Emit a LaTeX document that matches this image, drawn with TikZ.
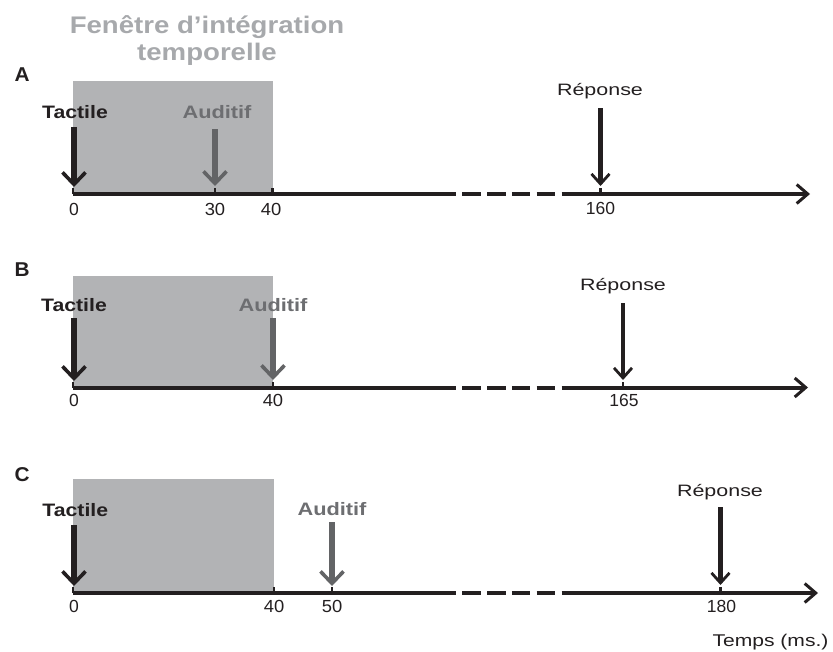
\documentclass[tikz,border=0pt]{standalone}
\usepackage{fontspec}
\setmainfont{Liberation Sans}
\usepackage{graphicx}
\usetikzlibrary{arrows.meta}
\definecolor{ink}{HTML}{231F20}
\definecolor{aud}{HTML}{636466}
\definecolor{audtxt}{HTML}{6D6E71}
\definecolor{win}{HTML}{B2B3B5}
\definecolor{ttl}{HTML}{A7A9AC}
\newcommand{\sx}[2]{\scalebox{#1}[1]{#2}}
\newcommand{\tlaxis}[3]{%
  \coordinate (#1s) at (73,#2);
  \coordinate (#1d1) at (455.7,#2);
  \coordinate (#1d2) at (462.3,#2);
  \coordinate (#1d3) at (555.1,#2);
  \coordinate (#1d4) at (561.7,#2);
  \coordinate (#1e) at (#3,#2);
  \draw[axisline] (#1s) -- (#1d1);
  \draw[axisline, dash pattern=on 18.4pt off 6.4pt] (#1d2) -- (#1d3);
  \draw[axisline, -{axhead}] (#1d4) -- (#1e);
}
\begin{document}
\begin{tikzpicture}[x=1pt,y=-1pt,
  lbl/.style={inner sep=0pt, anchor=base},
  ttlfont/.style={lbl, text=ttl, font=\fontsize{24}{28}\selectfont\bfseries},
  letterfont/.style={inner sep=0pt, anchor=base west, text=ink, font=\fontsize{20}{23}\selectfont\bfseries},
  tacfont/.style={lbl, text=ink, font=\fontsize{18}{21}\selectfont\bfseries},
  audfont/.style={lbl, text=audtxt, font=\fontsize{18}{21}\selectfont\bfseries},
  repfont/.style={lbl, text=ink, font=\fontsize{16.5}{19}\selectfont},
  numfont/.style={lbl, text=ink, font=\fontsize{17.5}{20}\selectfont},
  axisline/.style={draw=ink, line width=4pt, line cap=butt},
  axhead/.tip={Straight Barb[length=11pt, width=19pt, line width=3pt]},
  evhead/.tip={Straight Barb[length=12pt, width=23pt, line width=3.6pt]},
  rphead/.tip={Straight Barb[length=10pt, width=18pt, line width=2.8pt]},
  tacarrow/.style={draw=ink, line width=5.5pt, -{evhead}},
  audarrow/.style={draw=aud, line width=5.5pt, -{evhead}},
  reparrow/.style={draw=ink, line width=4.6pt, -{rphead}},
  tickmark/.style={draw=ink, line width=2.6pt},
  windowbox/.style={fill=win, draw=none}
]
\useasboundingbox (0,0) rectangle (833,651);

% Title
\node[ttlfont] (title1) at (207,33) {\sx{1.15}{Fenêtre d’intégration}};
\node[ttlfont] (title2) at (207,60) {\sx{1.15}{temporelle}};

% ---------- Panel A ----------
\node[letterfont] (LA) at (14.5,81) {\sx{1.04}{A}};
\fill[windowbox] (73,81) rectangle (273,194);
\tlaxis{A}{194}{810}
\foreach \x in {73,215,272.5,600.5} \draw[tickmark] (\x,194) -- (\x,188.3);
\node[tacfont] (tacA) at (75,118) {\sx{1.18}{Tactile}};
\coordinate (tacAtop) at (74,127); \coordinate (tacAtip) at (74,187);
\draw[tacarrow] (tacAtop) -- (tacAtip);
\node[audfont] (audA) at (217,118) {\sx{1.21}{Auditif}};
\coordinate (audAtop) at (215,129); \coordinate (audAtip) at (215,186);
\draw[audarrow] (audAtop) -- (audAtip);
\node[repfont] (repA) at (600,95) {\sx{1.3}{Réponse}};
\coordinate (repAtop) at (600.5,108); \coordinate (repAtip) at (600.5,186);
\draw[reparrow] (repAtop) -- (repAtip);
\node[numfont] (nA0) at (74,215) {\sx{1.0}{0}};
\node[numfont] (nA30) at (215,215) {\sx{1.05}{30}};
\node[numfont] (nA40) at (271,215) {\sx{1.05}{40}};
\node[numfont] (nA160) at (600.5,214) {\sx{1.0}{160}};

% ---------- Panel B ----------
\node[letterfont] (LB) at (14.5,276) {\sx{1.04}{B}};
\fill[windowbox] (73,275.7) rectangle (273,387.5);
\tlaxis{B}{387.5}{808}
\foreach \x in {73,273,623} \draw[tickmark] (\x,387.5) -- (\x,381.8);
\node[tacfont] (tacB) at (74,311.7) {\sx{1.18}{Tactile}};
\coordinate (tacBtop) at (74,318); \coordinate (tacBtip) at (74,381);
\draw[tacarrow] (tacBtop) -- (tacBtip);
\node[audfont] (audB) at (273,311.7) {\sx{1.21}{Auditif}};
\coordinate (audBtop) at (273,318); \coordinate (audBtip) at (273,380);
\draw[audarrow] (audBtop) -- (audBtip);
\node[repfont] (repB) at (623,290) {\sx{1.3}{Réponse}};
\coordinate (repBtop) at (623,303); \coordinate (repBtip) at (623,380);
\draw[reparrow] (repBtop) -- (repBtip);
\node[numfont] (nB0) at (74,406.7) {\sx{1.0}{0}};
\node[numfont] (nB40) at (273,406.7) {\sx{1.05}{40}};
\node[numfont] (nB165) at (624,406.7) {\sx{1.0}{165}};

% ---------- Panel C ----------
\node[letterfont] (LC) at (14.5,481.7) {\sx{1.04}{C}};
\fill[windowbox] (73,479) rectangle (274,593);
\tlaxis{C}{593}{818}
\foreach \x in {73,274,332,720.5} \draw[tickmark] (\x,593) -- (\x,587.3);
\node[tacfont] (tacC) at (75.3,516.7) {\sx{1.18}{Tactile}};
\coordinate (tacCtop) at (74,525); \coordinate (tacCtip) at (74,586);
\draw[tacarrow] (tacCtop) -- (tacCtip);
\node[audfont] (audC) at (332,515) {\sx{1.21}{Auditif}};
\coordinate (audCtop) at (332,522); \coordinate (audCtip) at (332,586);
\draw[audarrow] (audCtop) -- (audCtip);
\node[repfont] (repC) at (720,496.7) {\sx{1.3}{Réponse}};
\coordinate (repCtop) at (720.5,507); \coordinate (repCtip) at (720.5,585);
\draw[reparrow] (repCtop) -- (repCtip);
\node[numfont] (nC0) at (74,612.7) {\sx{1.0}{0}};
\node[numfont] (nC40) at (274,612.7) {\sx{1.05}{40}};
\node[numfont] (nC50) at (332,612.7) {\sx{1.05}{50}};
\node[numfont] (nC180) at (721.5,612.7) {\sx{1.0}{180}};

\node[repfont, font=\fontsize{17}{20}\selectfont] (temps) at (770.5,646.7) {\sx{1.24}{Temps (ms.)}};
\end{tikzpicture}
\end{document}
